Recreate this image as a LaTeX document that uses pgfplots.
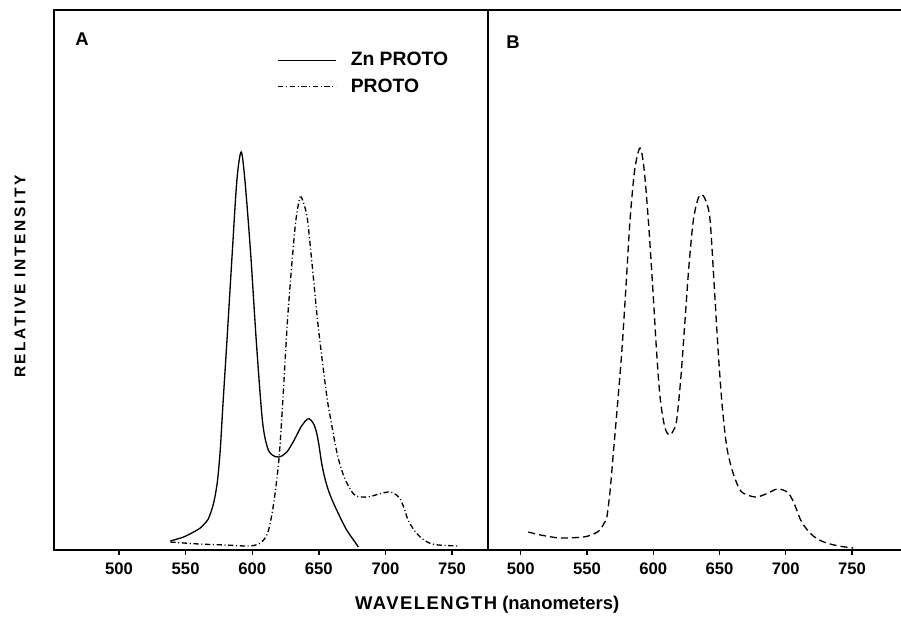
\documentclass[border=0pt]{standalone}
\usepackage{pgfplots}
\pgfplotsset{compat=1.18}
\usepackage{fontspec}
\setmainfont{Liberation Sans}
\newfontfamily\wideA[LetterSpace=8]{Liberation Sans}
\newfontfamily\wideB[LetterSpace=17]{Liberation Sans}

\begin{document}
\begin{tikzpicture}
\useasboundingbox (-1.08,-1.4) rectangle (16.94,11.0);
\pgfplotsset{
  every axis/.append style={
    scale only axis,
    height=10.8cm,
    ymin=0, ymax=5.4,
    ytick=\empty,
    xtick={500,550,600,650,700,750},
    xtick pos=left,
    tick align=outside,
    major tick length=0.09cm,
    axis line style={line width=0.9pt},
    every tick/.style={line width=0.8pt,black},
    /pgf/number format/assume math mode=true,
    xticklabel style={font=\bfseries\fontsize{9.5}{11}\selectfont, yshift=-0.045cm},
  },
}
% panel A
\begin{axis}[
    at={(0,0)}, anchor=south west,
    width=8.68cm,
    xmin=451.2, xmax=777,
    clip=false,
    legend style={draw=none, fill=none, at={(0.514,0.922)}, anchor=north west,
      inner sep=0pt, row sep=0.2cm,
      font=\bfseries\fontsize{11}{13}\selectfont,
      nodes={inner sep=0pt},
      /tikz/every odd column/.append style={column sep=0.28cm}},
    legend cell align=left,
    legend image code/.code={\draw[#1] (0cm,0cm) -- (1.16cm,0cm);},
  ]
  \addplot[black, line width=0.75pt, smooth] coordinates {
    (538.5,0.09) (548.5,0.13) (556,0.18) (561,0.22) (564,0.26) (567,0.31)
    (570,0.42) (572,0.53) (574,0.70) (576,1.00) (578,1.45)
    (581.2,2.13) (585,2.97) (588.5,3.70) (591.7,3.98)
    (594.5,3.70) (598.8,2.97) (603,2.10) (607.6,1.30) (611.3,1.03)
    (615,0.95) (620.2,0.93) (626,0.98) (631.5,1.10) (637,1.24)
    (641.5,1.31) (644,1.30) (646.5,1.25) (648.4,1.17) (650.2,1.04)
    (652.1,0.87) (654.5,0.72) (657.1,0.60) (660,0.50) (663.4,0.40)
    (667,0.30) (670.9,0.20) (675,0.12) (679.7,0.03)
  };
  \addlegendentry{Zn PROTO}
  \addplot[black, line width=0.75pt, smooth, dash pattern=on 3pt off 1.5pt on 0.6pt off 1.5pt] coordinates {
    (538.5,0.08) (560,0.06) (580,0.05) (598,0.04) (606,0.07)
    (611,0.15) (614,0.30) (617,0.55) (620.2,0.93) (623,1.50)
    (626.5,2.30) (630,2.90) (632.8,3.30) (636,3.53) (639,3.45)
    (641.5,3.30) (645,2.85) (649,2.30) (653,1.85) (656.4,1.50)
    (659,1.30) (664,0.95) (669,0.73) (674,0.60) (678,0.54)
    (686.8,0.53) (695,0.56) (701.9,0.58) (706,0.57) (710.6,0.52)
    (714,0.42) (717,0.30) (722,0.19) (727,0.12) (733,0.07)
    (740,0.05) (755,0.04)
  };
  \addlegendentry{PROTO}
  \node[font=\bfseries\fontsize{10.5}{12}\selectfont] at (rel axis cs:0.0645,0.946) {A};
  \node[font=\bfseries\fontsize{8.8}{10}\selectfont, rotate=90] at (rel axis cs:-0.078,0.506) {\wideB RELATIVE INTENSITY};
  \node[font=\bfseries\fontsize{10.5}{12}\selectfont] at (rel axis cs:0.998,-0.102) {{\wideA WAVELENGTH} (nanometers)};
\end{axis}
% panel B
\begin{axis}[
    at={(8.68cm,0)}, anchor=south west,
    width=8.26cm,
    xmin=475.3, xmax=787,
    axis x line*=box, axis y line*=left,
    xtick pos=left,
  ]
  \addplot[black, line width=0.75pt, smooth, dash pattern=on 4pt off 2.3pt] coordinates {
    (505.7,0.18) (515,0.15) (529.7,0.12) (547.2,0.13) (555,0.16)
    (559.8,0.20) (563,0.27) (565,0.33) (567.5,0.60) (569.9,0.97)
    (573,1.45) (576.2,1.97) (579.5,2.65) (582.5,3.30) (586,3.80)
    (590,4.02) (593,3.82) (596.3,3.30) (599.5,2.65) (602.6,1.97)
    (605,1.55) (607.6,1.30) (610,1.18) (612.7,1.15) (615,1.19)
    (617.7,1.30) (621,1.75) (624,2.30) (627,2.85) (630.3,3.30)
    (634,3.52) (637.1,3.55) (640,3.48) (642.9,3.30) (646,2.65)
    (649.1,1.97) (652,1.45) (655.5,1.03) (660,0.78) (665.5,0.60)
    (671,0.55) (678,0.53) (685,0.56) (693.2,0.61) (698,0.60)
    (702,0.57) (705.5,0.49) (708.3,0.40) (712,0.28) (718.3,0.17)
    (724,0.11) (730.9,0.07) (740,0.04) (751,0.02)
  };
  \node[font=\bfseries\fontsize{10.5}{12}\selectfont] at (rel axis cs:0.0605,0.941) {B};
\end{axis}
\end{tikzpicture}
\end{document}
